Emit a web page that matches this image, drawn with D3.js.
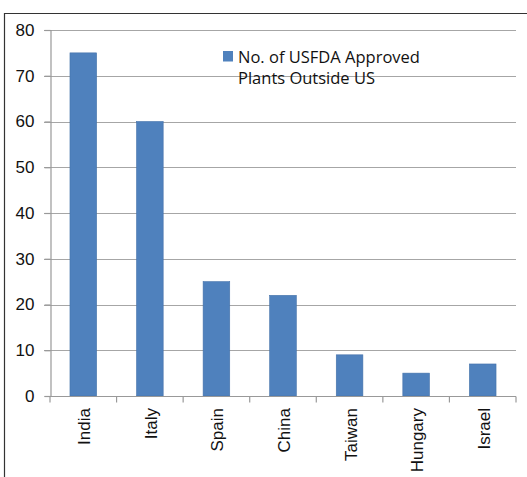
<!DOCTYPE html>
<html>
<head>
<meta charset="utf-8">
<script src="https://cdn.jsdelivr.net/npm/d3@7"></script>
<style>
  html, body { margin: 0; padding: 0; background: #fff; }
  svg { display: block; }
  text { fill: #111; }
</style>
</head>
<body>
<div id="chart"></div>
<script>
// Countries and number of USFDA approved plants in each
const countries = ["India", "Italy", "Spain", "China", "Taiwan", "Hungary", "Israel"];
const plants = [75, 60, 25, 22, 9, 5, 7];
const yTicks = [0, 10, 20, 30, 40, 50, 60, 70, 80];
const seriesName = ["No. of USFDA Approved", "Plants Outside US"];

const W = 527, H = 477;
const margin = { top: 30, right: 11, bottom: 81, left: 50 };
const axisFont = "\"Liberation Sans\", Arial, sans-serif";
const legendFont = "\"Open Sans\", \"Noto Sans\", sans-serif";

const svg = d3.select("#chart").append("svg")
  .attr("width", W).attr("height", H);

// chart frame
svg.append("path")
  .attr("d", `M4.5,${H} V13.5 H${W}`)
  .attr("fill", "none").attr("stroke", "#333").attr("stroke-width", 1.2);

const x = d3.scaleBand()
  .domain(countries)
  .range([margin.left, W - margin.right])
  .paddingInner(0.6).paddingOuter(0.3);

const y = d3.scaleLinear()
  .domain([0, 80])
  .range([H - margin.bottom, margin.top]);

// horizontal gridlines
svg.append("g")
  .selectAll("line")
  .data(yTicks.filter(d => d > 0))
  .join("line")
  .attr("x1", margin.left - 6).attr("x2", W - margin.right)
  .attr("y1", d => Math.round(y(d)) + 0.5).attr("y2", d => Math.round(y(d)) + 0.5)
  .attr("stroke", "#a6a6a6").attr("stroke-width", 1.2);

// y axis
const yAxis = svg.append("g")
  .attr("transform", `translate(${margin.left + 0.5},0)`)
  .call(d3.axisLeft(y).tickValues(yTicks).tickSize(6).tickPadding(10));
yAxis.select(".domain").attr("stroke", "#999").attr("stroke-width", 1.2);
yAxis.selectAll(".tick line").attr("stroke", "#999").attr("stroke-width", 1.2);
yAxis.selectAll(".tick text").attr("font-size", 17).attr("fill", "#111")
  .attr("font-family", axisFont);

// bars
svg.append("g")
  .selectAll("rect")
  .data(countries)
  .join("rect")
  .attr("x", d => x(d))
  .attr("y", (d, i) => y(plants[i]))
  .attr("width", x.bandwidth())
  .attr("height", (d, i) => y(0) - y(plants[i]))
  .attr("fill", "#4f81bd")
  .attr("stroke", "#4572aa").attr("stroke-width", 0.6);

// x axis with category boundaries as ticks
const xAxisG = svg.append("g")
  .attr("transform", `translate(0,${Math.round(y(0)) + 0.5})`);
xAxisG.append("line")
  .attr("x1", margin.left).attr("x2", W - margin.right)
  .attr("stroke", "#999").attr("stroke-width", 1.2);
const catWidth = (W - margin.right - margin.left) / countries.length;
xAxisG.selectAll(".b")
  .data(d3.range(countries.length + 1))
  .join("line")
  .attr("x1", i => margin.left + i * catWidth)
  .attr("x2", i => margin.left + i * catWidth)
  .attr("y1", 0).attr("y2", 6)
  .attr("stroke", "#999").attr("stroke-width", 1.2);

// rotated category labels
svg.append("g")
  .selectAll("text")
  .data(countries)
  .join("text")
  .attr("transform", d => `translate(${x(d) + x.bandwidth() / 2 + 7},${y(0) + 12}) rotate(-90)`)
  .attr("text-anchor", "end")
  .attr("font-family", axisFont)
  .attr("font-size", 17)
  .text(d => d);

// legend
const lg = svg.append("g").attr("transform", "translate(223,51)");
lg.append("rect").attr("width", 10).attr("height", 10.5).attr("fill", "#4f81bd");
lg.selectAll("text")
  .data(seriesName)
  .join("text")
  .attr("x", 15)
  .attr("y", (d, i) => 11.5 + i * 21.5)
  .attr("font-family", legendFont)
  .attr("font-size", 16.5)
  .text(d => d);
</script>
</body>
</html>
